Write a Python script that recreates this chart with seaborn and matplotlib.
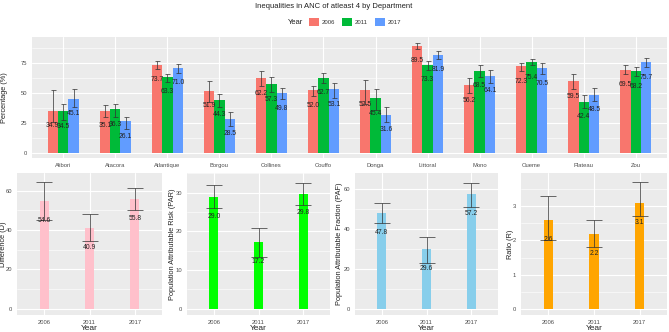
import matplotlib
matplotlib.use("Agg")
import matplotlib.pyplot as plt
from matplotlib.ticker import MultipleLocator
import numpy as np
import pandas as pd
import seaborn as sns

# ---- data ----
departments = ["Alibori", "Atacora", "Atlantique", "Borgou", "Collines", "Couffo",
               "Donga", "Littoral", "Mono", "Oueme", "Plateau", "Zou"]
years = ["2006", "2011", "2017"]

pct_2006 = [34.9, 35.1, 73.7, 51.9, 62.2, 52.0, 52.5, 89.5, 56.2, 72.3, 59.5, 69.5]
pct_2011 = [34.5, 36.3, 63.3, 44.3, 57.3, 62.7, 45.4, 73.3, 68.5, 75.4, 42.4, 68.2]
pct_2017 = [45.1, 26.1, 71.0, 28.5, 49.8, 53.1, 31.6, 81.9, 64.1, 70.5, 48.5, 75.7]

low_2006 = [26, 30, 70, 42, 56, 47, 41, 87, 50, 68, 53, 66]
high_2006 = [52, 40, 77, 60, 68, 56, 61, 92, 62, 75, 66, 73]
low_2011 = [27, 30, 59, 38, 51, 58, 36, 69, 63, 73, 37, 64]
high_2011 = [41, 41, 66, 49, 63, 67, 53, 77, 73, 78, 48, 72]
low_2017 = [38, 20, 67, 22, 45, 46, 26, 78, 58, 66, 43, 72]
high_2017 = [53, 30, 74, 34, 54, 58, 38, 85, 69, 75, 54, 79]

diff_vals = [54.6, 40.9, 55.8]
diff_low = [45.0, 34.4, 50.2]
diff_high = [64.3, 48.1, 61.5]

par_vals = [29.0, 17.2, 29.8]
par_low = [26.0, 13.5, 26.8]
par_high = [32.0, 21.0, 32.6]

paf_vals = [47.8, 29.6, 57.2]
paf_low = [43.0, 23.0, 51.0]
paf_high = [53.0, 36.0, 63.0]

ratio_vals = [2.6, 2.2, 3.1]
ratio_low = [2.0, 1.8, 2.7]
ratio_high = [3.3, 2.6, 3.7]

year_colors = {"2006": "#F8766D", "2011": "#00BA38", "2017": "#619CFF"}

sns.set_theme(style="darkgrid")
plt.rcParams["font.family"] = ["Liberation Sans", "DejaVu Sans"]

W, H = 669, 332
fig = plt.figure(figsize=(W / 100, H / 100), dpi=100)


def px_axes(x0, y0, x1, y1):
    return fig.add_axes([x0 / W, 1 - y1 / H, (x1 - x0) / W, (y1 - y0) / H])


def style(ax, major, minor):
    ax.set_facecolor("#EBEBEB")
    for s in ax.spines.values():
        s.set_visible(False)
    ax.yaxis.set_major_locator(MultipleLocator(major))
    ax.yaxis.set_minor_locator(MultipleLocator(minor))
    ax.grid(which="major", color="white", linewidth=0.8)
    ax.grid(which="minor", axis="y", color="white", linewidth=0.4)
    ax.tick_params(axis="both", which="major", length=2, width=0.5, color="#333333",
                   labelcolor="#4D4D4D", labelsize=4.2, pad=1.5)
    ax.tick_params(axis="both", which="minor", length=0)
    ax.set_axisbelow(True)


def place_ylabel(ax, text, x_px, box):
    ax.set_ylabel(text, fontsize=5.3, color="#222222", va="center")
    ax.yaxis.set_label_coords((x_px - box[0]) / (box[2] - box[0]), 0.5)


# ---------- top panel ----------
top = pd.DataFrame({
    "Department": departments * 3,
    "Year": [y for y in years for _ in departments],
    "value": pct_2006 + pct_2011 + pct_2017,
    "low": low_2006 + low_2011 + low_2017,
    "high": high_2006 + high_2011 + high_2017,
})

top_box = (32, 37, 667, 158)
ax = px_axes(*top_box)
sns.barplot(data=top, x="Department", y="value", hue="Year", palette=year_colors,
            width=0.6, saturation=1, errorbar=None, linewidth=0, ax=ax)
for cont, yr in zip(ax.containers, years):
    sub = top[top["Year"] == yr]
    xs = [b.get_x() + b.get_width() / 2 for b in cont]
    vals = sub["value"].values
    ax.errorbar(xs, vals, yerr=[vals - sub["low"].values, sub["high"].values - vals],
                fmt="none", ecolor="#333333", elinewidth=0.6, capsize=1.8,
                capthick=0.6, alpha=0.85)
    for x, v in zip(xs, vals):
        ax.annotate(f"{v:.1f}", xy=(x, v), xytext=(0, -10.8), textcoords="offset points",
                    ha="center", va="center", fontsize=4.9, color="#222222")
style(ax, 25, 12.5)
ax.set_xlim(-0.6, 11.6)
ax.set_ylim(-4.5, 96.7)
ax.set_xlabel("")
place_ylabel(ax, "Percentage (%)", 5, top_box)

handles, labels = ax.get_legend_handles_labels()
ax.get_legend().remove()
fig.text(296 / W, 1 - 22 / H, "Year", fontsize=5.5, ha="center", va="center", color="#222222")
leg = fig.legend(handles, labels, ncol=3, loc="center", bbox_to_anchor=(355 / W, 1 - 22 / H),
                 frameon=False, fontsize=4.3, handlelength=1.7, handleheight=1.9,
                 columnspacing=1.1, handletextpad=0.5)
for t in leg.get_texts():
    t.set_color("#333333")

fig.text(334 / W, 1 - 7 / H, "Inequalities in ANC of atleast 4 by Department",
         fontsize=5.5, ha="center", va="center", color="#222222")

# ---------- bottom panels ----------
panels = [
    ((17, 173, 162, 315), diff_vals, diff_low, diff_high, "#FFC0CB", "Difference (D)",
     (20, 10), (-3.2, 69), 4),
    ((187, 173, 330, 315), par_vals, par_low, par_high, "#00FF00",
     "Population Attributable Risk (PAR)", (10, 5), (-1.6, 35.1), 172),
    ((355, 173, 498, 315), paf_vals, paf_low, paf_high, "#87CEEB",
     "Population Attributable Fraction (PAF)", (20, 10), (-3.2, 67.9), 339),
    ((521, 173, 667, 315), ratio_vals, ratio_low, ratio_high, "#FFA500", "Ratio (R)",
     (1, 0.5), (-0.18, 3.97), 510),
]

for box, vals, lo, hi, col, ylab, (maj, mnr), ylim, labx in panels:
    ax = px_axes(*box)
    df = pd.DataFrame({"Year": years, "value": vals})
    sns.barplot(data=df, x="Year", y="value", color=col, width=0.2, saturation=1,
                errorbar=None, linewidth=0, ax=ax)
    xs = [b.get_x() + b.get_width() / 2 for b in ax.containers[0]]
    v = np.array(vals)
    ax.errorbar(xs, v, yerr=[v - np.array(lo), np.array(hi) - v], fmt="none",
                ecolor="#333333", elinewidth=0.6, capsize=5.5, capthick=0.6, alpha=0.85)
    for x, val in zip(xs, vals):
        ax.annotate(f"{val:.1f}", xy=(x, val), xytext=(0, -14), textcoords="offset points",
                    ha="center", va="center", fontsize=4.9, color="#222222")
    style(ax, maj, mnr)
    ax.set_xlim(-0.6, 2.6)
    ax.set_ylim(*ylim)
    ax.set_xlabel("Year", fontsize=6, color="#222222", labelpad=0)
    place_ylabel(ax, ylab, labx, box)

fig.savefig("out.png", dpi=100)
